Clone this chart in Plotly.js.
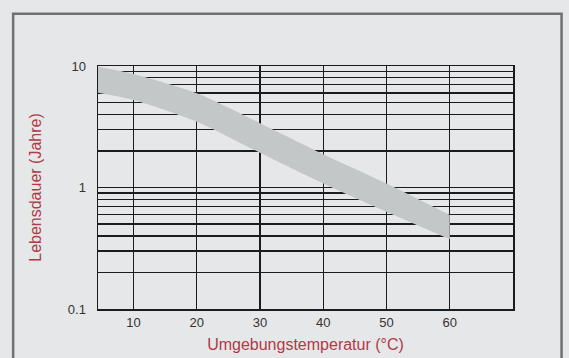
<!DOCTYPE html>
<html>
<head>
<meta charset="utf-8">
<script src="https://cdn.plot.ly/plotly-3.0.1.min.js"></script>
<style>
  html, body { margin: 0; padding: 0; background: #e6e7e9; }
  #chart { width: 569px; height: 358px; }
</style>
</head>
<body>
<div id="chart"></div>
<script>
// Data
const temps = [4.4, 10, 20, 30, 40, 50, 60];
const lifeUpper = [9.87, 8.6, 5.96, 3.38, 1.88, 1.08, 0.594];
const lifeLower = [6.03, 5.25, 3.48, 1.93, 1.08, 0.632, 0.375];

const xTickVals = [10, 20, 30, 40, 50, 60];
const yTickVals = [0.1, 0.2, 0.3, 0.4, 0.5, 0.6, 0.7, 0.8, 0.9,
                   1, 2, 3, 4, 5, 6, 7, 8, 9, 10];
const yTickText = ['0.1', '', '', '', '', '', '', '', '',
                   '1', '', '', '', '', '', '', '', '', '10'];

const xTitle = 'Umgebungstemperatur (°C)';
const yTitle = 'Lebensdauer (Jahre)';

const bandColor = '#c3c7c8';
const titleColor = '#b03a45';
const textColor = '#333333';
const fontFamily = 'Liberation Sans, Arial, Helvetica, sans-serif';

const traces = [
  {
    x: temps, y: lifeLower, type: 'scatter', mode: 'lines',
    line: { width: 0, color: bandColor, shape: 'spline', smoothing: 0.8 },
    hoverinfo: 'skip', showlegend: false
  },
  {
    x: temps, y: lifeUpper, type: 'scatter', mode: 'lines',
    fill: 'tonexty', fillcolor: bandColor,
    line: { width: 0, color: bandColor, shape: 'spline', smoothing: 0.8 },
    showlegend: false
  }
];

const layout = {
  width: 569, height: 358,
  margin: { l: 98, r: 56, t: 66, b: 49 },
  paper_bgcolor: '#e6e7e9',
  plot_bgcolor: '#e6e7e9',
  font: { family: fontFamily, size: 13, color: textColor },
  showlegend: false,
  xaxis: {
    range: [4.4, 70],
    tickvals: xTickVals,
    ticks: '',
    showgrid: true, gridcolor: '#1c1c1c', gridwidth: 1.3,
    showline: true, linecolor: '#1c1c1c', linewidth: 1.5, mirror: true,
    zeroline: false,
    ticklabelstandoff: 1,
    tickfont: { size: 13, color: textColor },
    title: { text: xTitle, font: { size: 16, color: titleColor }, standoff: 9 }
  },
  yaxis: {
    type: 'log',
    range: [-1, 1],
    tickvals: yTickVals,
    ticktext: yTickText,
    ticks: '',
    showgrid: true, gridcolor: '#1c1c1c', gridwidth: 1.3,
    showline: true, linecolor: '#1c1c1c', linewidth: 1.5, mirror: true,
    zeroline: false,
    ticklabelstandoff: 8,
    tickfont: { size: 13, color: textColor },
    title: { text: yTitle, font: { size: 16, color: titleColor }, standoff: 22 }
  },
  shapes: [
    {
      type: 'rect', xref: 'paper', yref: 'paper',
      x0: -0.2045, x1: 1.117, y0: -0.3, y1: 1.215,
      line: { color: '#6f7272', width: 2.5 }, fillcolor: 'rgba(0,0,0,0)',
      layer: 'below'
    }
  ]
};

Plotly.newPlot('chart', traces, layout, { displayModeBar: false, staticPlot: true });
</script>
</body>
</html>
